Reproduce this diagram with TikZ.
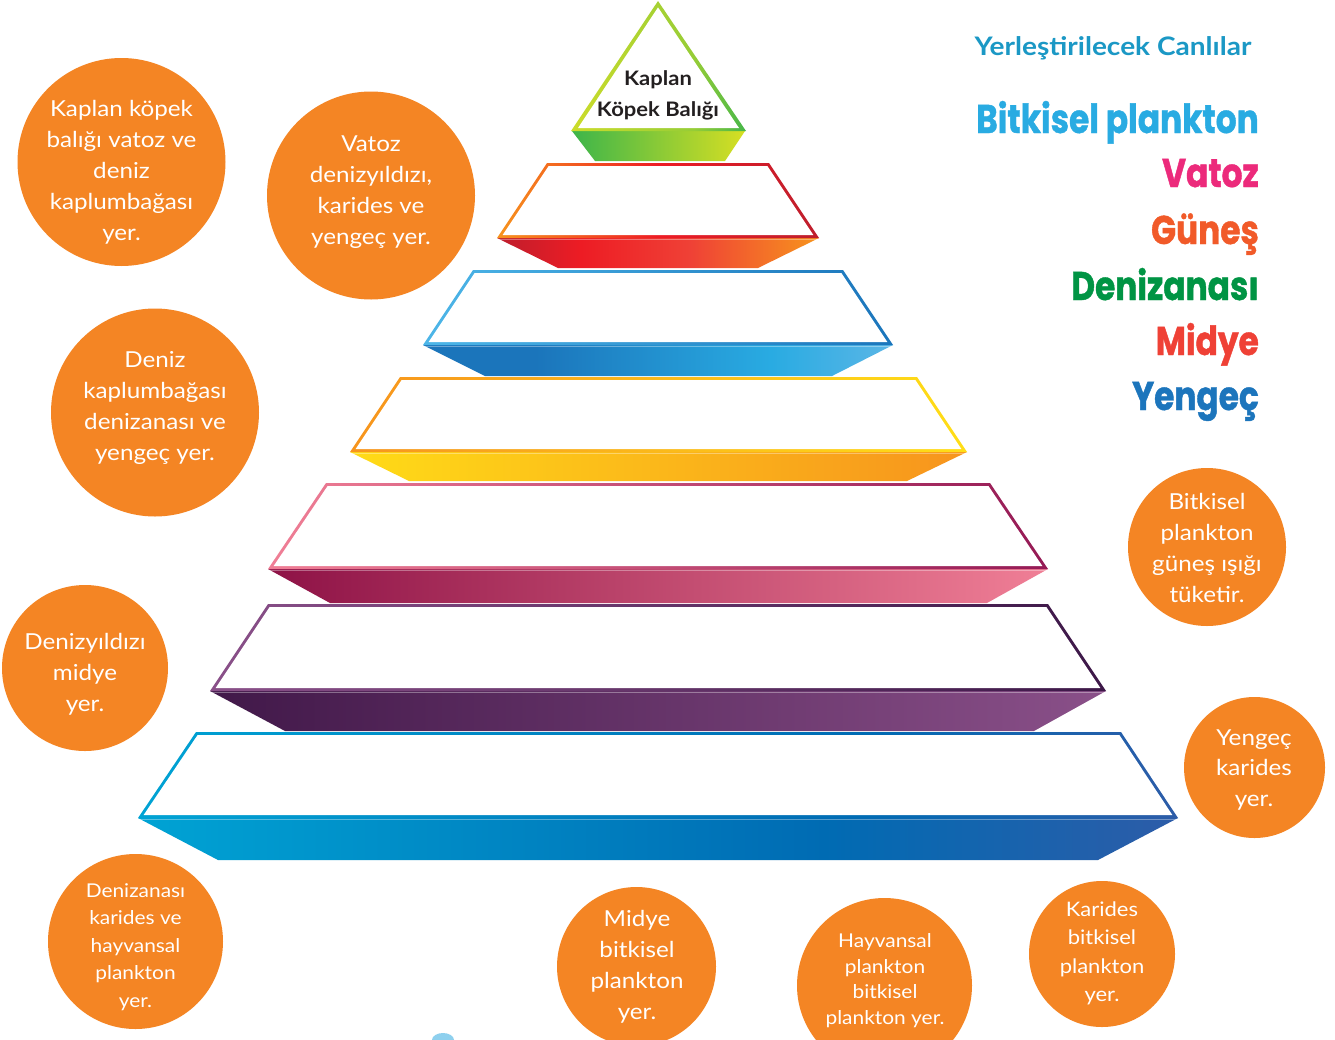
\documentclass[tikz,border=0pt]{standalone}
\usepackage{fontspec}
\setmainfont{Lato}[FakeStretch=1.1]
\newfontfamily\listfont{Poppins}[FakeStretch=0.82, BoldFeatures={FakeBold=1}]
\definecolor{orangeb}{HTML}{F48524}
\definecolor{txtdark}{HTML}{231F20}
\definecolor{headc}{HTML}{1B98C5}
\definecolor{lBit}{HTML}{29ABE2}
\definecolor{lVat}{HTML}{EC2A7B}
\definecolor{lGun}{HTML}{F15A29}
\definecolor{lDen}{HTML}{009444}
\definecolor{lMid}{HTML}{EF4136}
\definecolor{lYen}{HTML}{1C75BC}
\definecolor{smallblue}{HTML}{8ED0EE}
% gradient colours
\definecolor{gA}{HTML}{3DB54A}\definecolor{gB}{HTML}{D7DF23}
\definecolor{gC}{HTML}{CCDC2A}\definecolor{gD}{HTML}{45B649}
\definecolor{rA}{HTML}{BE1E2D}\definecolor{rB}{HTML}{ED1C24}\definecolor{rC}{HTML}{EF4136}\definecolor{rD}{HTML}{F7941D}
\definecolor{bA}{HTML}{1B75BB}\definecolor{bB}{HTML}{29ABE2}\definecolor{bC}{HTML}{5BB6E6}\definecolor{bD}{HTML}{4DB6E8}
\definecolor{yA}{HTML}{FFDB17}\definecolor{yB}{HTML}{F7941D}\definecolor{yC}{HTML}{FFDE17}
\definecolor{pA}{HTML}{8E1246}\definecolor{pB}{HTML}{F07F96}\definecolor{pC}{HTML}{951A55}
\definecolor{vA}{HTML}{411849}\definecolor{vB}{HTML}{8A5089}\definecolor{vC}{HTML}{3D1848}
\definecolor{cA}{HTML}{00A3D4}\definecolor{cB}{HTML}{006BB3}\definecolor{cC}{HTML}{2D5CA8}
\pgfdeclarehorizontalshading{t0-band}{100bp}{color(0bp)=(gA); color(25bp)=(gA); color(75bp)=(gB); color(100bp)=(gB)}
\pgfdeclarehorizontalshading{t0-line}{100bp}{color(0bp)=(gC); color(25bp)=(gC); color(60bp)=(gC!60!gD); color(75bp)=(gD); color(100bp)=(gD)}
\pgfdeclarehorizontalshading{t1-band}{100bp}{color(0bp)=(rA); color(25bp)=(rA); color(38bp)=(rB); color(55bp)=(rC); color(75bp)=(rD); color(100bp)=(rD)}
\pgfdeclarehorizontalshading{t1-line}{100bp}{color(0bp)=(rD); color(25bp)=(rD); color(50bp)=(rB); color(75bp)=(rA); color(100bp)=(rA)}
\pgfdeclarehorizontalshading{t2-band}{100bp}{color(0bp)=(bA); color(25bp)=(bA); color(37bp)=(bA); color(62bp)=(bB); color(75bp)=(bC); color(100bp)=(bC)}
\pgfdeclarehorizontalshading{t2-line}{100bp}{color(0bp)=(bD); color(25bp)=(bD); color(75bp)=(bA); color(100bp)=(bA)}
\pgfdeclarehorizontalshading{t3-band}{100bp}{color(0bp)=(yA); color(25bp)=(yA); color(75bp)=(yB); color(100bp)=(yB)}
\pgfdeclarehorizontalshading{t3-line}{100bp}{color(0bp)=(yB); color(25bp)=(yB); color(75bp)=(yC); color(100bp)=(yC)}
\pgfdeclarehorizontalshading{t4-band}{100bp}{color(0bp)=(pA); color(25bp)=(pA); color(75bp)=(pB); color(100bp)=(pB)}
\pgfdeclarehorizontalshading{t4-line}{100bp}{color(0bp)=(pB); color(25bp)=(pB); color(75bp)=(pC); color(100bp)=(pC)}
\pgfdeclarehorizontalshading{t5-band}{100bp}{color(0bp)=(vA); color(25bp)=(vA); color(75bp)=(vB); color(100bp)=(vB)}
\pgfdeclarehorizontalshading{t5-line}{100bp}{color(0bp)=(vB); color(25bp)=(vB); color(75bp)=(vC); color(100bp)=(vC)}
\pgfdeclarehorizontalshading{t6-band}{100bp}{color(0bp)=(cA); color(25bp)=(cA); color(58bp)=(cB); color(75bp)=(cC); color(100bp)=(cC)}
\pgfdeclarehorizontalshading{t6-line}{100bp}{color(0bp)=(cA); color(25bp)=(cA); color(60bp)=(cB); color(75bp)=(cC); color(100bp)=(cC)}
\def\lw{3}
% #1 yt #2 xtl #3 xtr #4 yb #5 xbl #6 xbr #7 ybb #8 xbbl #9 xbbr
\def\tier#1#2#3#4#5#6#7#8#9{%
  \pgfmathsetmacro\tS{(#2-#5)/(#4-#1)}%
  \pgfmathsetmacro\tH{\lw*sqrt(1+\tS*\tS)}%
  \shade[shading=\tiername-band] (#5,#4) -- (#6,#4) -- (#9,#7) -- (#8,#7) -- cycle;
  \shade[shading=\tiername-line] (#2,#1) -- (#3,#1) -- (#6,#4) -- (#5,#4) -- cycle;
  \fill[white] ({#2-\tS*\lw+\tH},{#1+\lw}) -- ({#3+\tS*\lw-\tH},{#1+\lw}) -- ({#6-\tS*\lw-\tH},{#4-\lw}) -- ({#5+\tS*\lw+\tH},{#4-\lw}) -- cycle;
  \draw[white, opacity=.35, line width=1pt] ({#5+2},{#4+1.5}) -- ({#6-2},{#4+1.5});
}
\tikzset{
  bubble/.style={circle, fill=orangeb, inner sep=0pt, minimum size=#1},
  bubtxt/.style={text=white, align=center, inner sep=0pt, font=\fontsize{22}{31}\selectfont},
  listtxt/.style={anchor=base east, inner sep=0pt, font=\listfont\bfseries\fontsize{40}{40}\selectfont},
}
\begin{document}
\begin{tikzpicture}[x=1pt,y=-1pt]
\useasboundingbox (0,0) rectangle (1335,1039);
\clip (0,0) rectangle (1335,1039);
\fill[white] (0,0) rectangle (1335,1039);
% ---- pyramid ----
\shade[shading=t0-band] (572,131) -- (745,131) -- (725,161) -- (595,161) -- cycle;
\shade[shading=t0-line] (658,1) -- (746,131) -- (571,131) -- cycle;
\fill[white] (658,7.4) -- (739,128) -- (578,128) -- cycle;
\node[font=\bfseries\fontsize{20}{31}\selectfont, text=txtdark, align=center, inner sep=0pt] (top) at (658,95) {Kaplan\\Köpek Balığı};
\def\tiername{t1}\tier{163}{547}{769}{238}{497}{819}{268}{558}{758}
\def\tiername{t2}\tier{270}{473}{843}{345}{423}{893}{376}{485}{832}
\def\tiername{t3}\tier{377}{400}{917}{452}{350}{967}{481}{409}{907}
\def\tiername{t4}\tier{483}{326}{990}{569}{268}{1048}{603}{330}{987}
\def\tiername{t5}\tier{604}{268}{1048}{691}{210}{1106}{731}{285}{1034}
\def\tiername{t6}\tier{732}{196}{1121}{818}{138}{1178}{860}{218}{1098}
% ---- bubbles ----
\node[bubble=208pt] (c1) at (121.5,162) {};
\node[bubtxt] (c1t) at (121.5,172) {Kaplan köpek\\balığı vatoz ve\\deniz\\kaplumbağası\\yer.};
\node[bubble=208pt] (c2) at (371,195.5) {};
\node[bubtxt] (c2t) at (371,192.5) {Vatoz\\denizyıldızı,\\karides ve\\yengeç yer.};
\node[bubble=208pt] (c3) at (155,412.5) {};
\node[bubtxt] (c3t) at (155,408) {Deniz\\kaplumbağası\\denizanası ve\\yengeç yer.};
\node[bubble=166pt] (c4) at (85,668) {};
\node[bubtxt] (c4t) at (85,674.5) {Denizyıldızı\\midye\\yer.};
\node[bubble=175pt] (c5) at (135.5,941.5) {};
\node[bubtxt, font=\fontsize{19}{27.5}\selectfont] (c5t) at (135.5,947) {Denizanası\\karides ve\\hayvansal\\plankton\\yer.};
\node[bubble=158pt] (c6) at (1207,547) {};
\node[bubtxt] (c6t) at (1207,547.5) {Bitkisel\\plankton\\güneş ışığı\\tüketir.};
\node[bubble=141pt] (c7) at (1254.5,767.5) {};
\node[bubtxt, font=\fontsize{22}{30.5}\selectfont] (c7t) at (1254,769.5) {Yengeç\\karides\\yer.};
\node[bubble=159pt] (c8) at (636.5,966.5) {};
\node[bubtxt] (c8t) at (637,966.5) {Midye\\bitkisel\\plankton\\yer.};
\node[bubble=175pt] (c9) at (884.5,985.5) {};
\node[bubtxt, font=\fontsize{19}{25.7}\selectfont] (c9t) at (885,980.5) {Hayvansal\\plankton\\bitkisel\\plankton yer.};
\node[bubble=146pt] (c10) at (1102,954) {};
\node[bubtxt, font=\fontsize{20}{28.5}\selectfont] (c10t) at (1102,953.5) {Karides\\bitkisel\\plankton\\yer.};
% small cut-off shape at the bottom
\fill[smallblue] (432,1040) arc[start angle=180, end angle=360, x radius=11, y radius=7] -- cycle;
% ---- list ----
\node[anchor=base, inner sep=0pt, text=headc, font=\bfseries\fontsize{25.5}{25.5}\selectfont] (head) at (1113,55) {Yerleştirilecek Canlılar};
\node[listtxt, text=lBit] (l1) at (1259,133) {Bitkisel plankton};
\node[listtxt, text=lVat] (l2) at (1259,187) {Vatoz};
\node[listtxt, text=lGun] (l3) at (1259,244) {Güneş};
\node[listtxt, text=lDen] (l4) at (1259,300) {Denizanası};
\node[listtxt, text=lMid] (l5) at (1259,355) {Midye};
\node[listtxt, text=lYen] (l6) at (1259,410) {Yengeç};
\end{tikzpicture}
\end{document}
